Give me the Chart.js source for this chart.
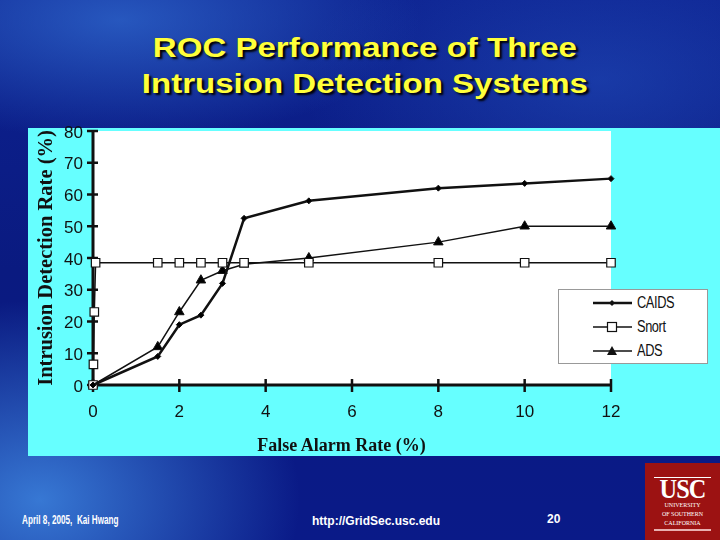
<!DOCTYPE html>
<html><head><meta charset="utf-8">
<script src="https://cdn.jsdelivr.net/npm/chart.js@4"></script>
<style>
html,body{margin:0;padding:0;}
body{width:720px;height:540px;overflow:hidden;position:relative;font-family:"Liberation Sans",Arial,sans-serif;
background:
 radial-gradient(ellipse 260px 200px at 40px 500px, rgba(60,130,220,0.9), rgba(60,130,220,0) 100%),
 radial-gradient(ellipse 300px 120px at 120px 20px, rgba(50,110,210,0.7), rgba(50,110,210,0) 100%),
 radial-gradient(ellipse 300px 150px at 600px 80px, rgba(40,90,200,0.45), rgba(40,90,200,0) 100%),
 linear-gradient(180deg,#0d2290 0%,#0a1a80 50%,#0a1a88 100%);}
.t{position:absolute;color:#ffff3a;font-weight:bold;font-size:28px;line-height:28px;text-shadow:2px 2px 2px #000;white-space:nowrap;left:6px;width:720px;text-align:center;transform:scaleX(1.18);transform-origin:366px 50%;}
#panel{position:absolute;left:28px;top:128px;width:692px;height:328px;background:#66ffff;}
#wrap{position:absolute;left:28px;top:110px;width:692px;height:346px;}
#xt{position:absolute;left:0;width:683px;text-align:center;top:435px;font-family:"Liberation Serif","Times New Roman",serif;font-weight:bold;font-size:18px;color:#111;}
#legend{position:absolute;left:558px;top:289px;width:148px;height:73px;background:#fff;border:1px solid #999;}
.li{position:absolute;left:34px;height:20px;}
.li svg{position:absolute;left:0;top:0;}
.li span{position:absolute;left:44px;top:1px;font-size:16px;color:#111;transform:scaleX(0.8);transform-origin:left center;white-space:nowrap;letter-spacing:-0.5px;}
.ft{position:absolute;color:#fff;font-size:12px;font-weight:bold;white-space:nowrap;transform-origin:left center;}
#usc{position:absolute;left:645px;top:463px;width:75px;height:77px;background:#9c1212;color:#fff;font-family:"Liberation Serif",serif;text-align:center;}
</style></head><body>
<div class="t" style="top:34px;">ROC Performance of Three</div>
<div class="t" style="top:70px;">Intrusion Detection Systems</div>
<div id="panel"></div>
<div id="wrap"><canvas id="c"></canvas></div>
<div id="xt">False Alarm Rate (%)</div>
<div id="legend"></div>
<div class="ft" style="left:22px;top:513px;transform:scaleX(0.68);">April 8, 2005,&nbsp; Kai Hwang</div>
<div class="ft" style="left:312px;top:514px;transform:scaleX(1.0);">http://GridSec.usc.edu</div>
<div class="ft" style="left:547px;top:512px;">20</div>
<div id="usc">
 <div style="position:absolute;left:9px;top:14px;width:57px;height:1px;background:#fff;"></div>
 <div style="position:absolute;left:0;width:75px;top:14px;font-size:27px;font-weight:bold;letter-spacing:-1px;line-height:24px;transform:scaleX(0.9);">USC</div>
 <div style="position:absolute;left:0;width:75px;top:38px;font-size:6px;line-height:9px;">UNIVERSITY<br>OF SOUTHERN<br>CALIFORNIA</div>
 <div style="position:absolute;left:9px;top:66px;width:57px;height:2px;background:#e8b0b0;"></div>
</div>
<script>
const seriesNames = ["CAIDS", "Snort", "ADS"];
const caidsX = [0, 1.5, 2, 2.5, 3, 3.5, 5, 8, 10, 12];
const caidsY = [0, 9, 19, 22, 32, 52.5, 58, 62, 63.5, 65];
const snortX = [0, 0.01, 0.03, 0.06, 1.5, 2, 2.5, 3, 3.5, 5, 8, 10, 12];
const snortY = [0, 6.5, 23, 38.5, 38.5, 38.5, 38.5, 38.5, 38.5, 38.5, 38.5, 38.5, 38.5];
const adsX = [0, 1.5, 2, 2.5, 3, 3.5, 5, 8, 10, 12];
const adsY = [0, 12, 23, 33, 36, 38, 40, 45, 50, 50];
const xTicks = [0, 2, 4, 6, 8, 10, 12];
const yTicks = [0, 10, 20, 30, 40, 50, 60, 70, 80];

const pts = (xs, ys) => xs.map((x, i) => ({x: x, y: ys[i]}));

const styles = [
  {borderWidth: 2.5, pointStyle: 'rectRot', pointRadius: 3, bg: '#000', pbw: 1},
  {borderWidth: 1.5, pointStyle: 'rect', pointRadius: 6, bg: '#fff', pbw: 1.2},
  {borderWidth: 1.5, pointStyle: 'triangle', pointRadius: 5.5, bg: '#000', pbw: 1}
];
const dataArr = [pts(caidsX, caidsY), pts(snortX, snortY), pts(adsX, adsY)];

const plotBg = {
  id: 'plotBg',
  beforeDraw(chart) {
    const {ctx, chartArea: a} = chart;
    ctx.save(); ctx.fillStyle = '#fff';
    ctx.fillRect(a.left, a.top, a.right - a.left, a.bottom - a.top);
    ctx.restore();
  },
  beforeDatasetsDraw(chart) {
    const {ctx, chartArea: a, scales: {x, y}} = chart;
    ctx.save();
    ctx.strokeStyle = '#111'; ctx.lineWidth = 3;
    ctx.beginPath();
    ctx.moveTo(a.left, y.getPixelForValue(80)); ctx.lineTo(a.left, a.bottom);
    ctx.lineTo(x.getPixelForValue(12), a.bottom);
    ctx.stroke();
    ctx.lineWidth = 2.5;
    yTicks.forEach(v => {
      const py = y.getPixelForValue(v);
      ctx.beginPath(); ctx.moveTo(a.left - 6, py); ctx.lineTo(a.left + 5, py); ctx.stroke();
    });
    xTicks.forEach(v => {
      const px = x.getPixelForValue(v);
      ctx.beginPath(); ctx.moveTo(px, a.bottom - 6); ctx.lineTo(px, a.bottom + 7); ctx.stroke();
    });
    ctx.restore();
  }
};

new Chart(document.getElementById('c'), {
  type: 'line',
  data: {
    datasets: seriesNames.map((n, i) => ({
      label: n, data: dataArr[i],
      borderColor: '#111', backgroundColor: styles[i].bg,
      borderWidth: styles[i].borderWidth,
      pointStyle: styles[i].pointStyle, pointRadius: styles[i].pointRadius,
      pointBackgroundColor: styles[i].bg, pointBorderColor: '#111',
      pointBorderWidth: styles[i].pbw, tension: 0, clip: false, fill: false
    }))
  },
  options: {
    responsive: true, maintainAspectRatio: false, animation: false,
    layout: {padding: {top: 21, right: 109, left: 0, bottom: 0}},
    plugins: {legend: {display: false}, tooltip: {enabled: false}},
    scales: {
      x: {
        type: 'linear', min: 0, max: 12,
        afterFit: s => { s.height = 71; },
        afterBuildTicks: s => { s.ticks = xTicks.map(v => ({value: v})); },
        grid: {display: false, drawTicks: false}, border: {display: false},
        ticks: {padding: 17, color: '#111', font: {family: 'Liberation Sans', size: 17}}
      },
      y: {
        type: 'linear', min: 0, max: 80,
        afterFit: s => { s.width = 65; },
        afterBuildTicks: s => { s.ticks = yTicks.map(v => ({value: v})); },
        grid: {display: false, drawTicks: false}, border: {display: false},
        ticks: {padding: 10, labelOffset: 2, color: '#111', font: {family: 'Liberation Sans', size: 17}},
        title: {display: true, text: 'Intrusion Detection Rate (%)', color: '#111',
          font: {family: 'Liberation Serif', size: 20.5, weight: 'bold'}, padding: {top: 6, bottom: 0}}
      }
    }
  },
  plugins: [plotBg]
});

// HTML legend built from the dataset names and styles
const lg = document.getElementById('legend');
seriesNames.forEach((n, i) => {
  const st = styles[i];
  let mk = '';
  if (st.pointStyle === 'rectRot') mk = '<polygon points="19,7 22,10 19,13 16,10" fill="#111"/>';
  if (st.pointStyle === 'rect') mk = '<rect x="14.5" y="5.5" width="9" height="9" fill="#fff" stroke="#111" stroke-width="1.2"/>';
  if (st.pointStyle === 'triangle') mk = '<polygon points="19,5 24,14 14,14" fill="#111"/>';
  const d = document.createElement('div');
  d.className = 'li'; d.style.top = (3 + i * 24) + 'px';
  d.innerHTML = '<svg width="40" height="20"><line x1="0" y1="10" x2="39" y2="10" stroke="#111" stroke-width="' + st.borderWidth + '"/>' + mk + '</svg><span>' + n + '</span>';
  lg.appendChild(d);
});
</script>
</body></html>
